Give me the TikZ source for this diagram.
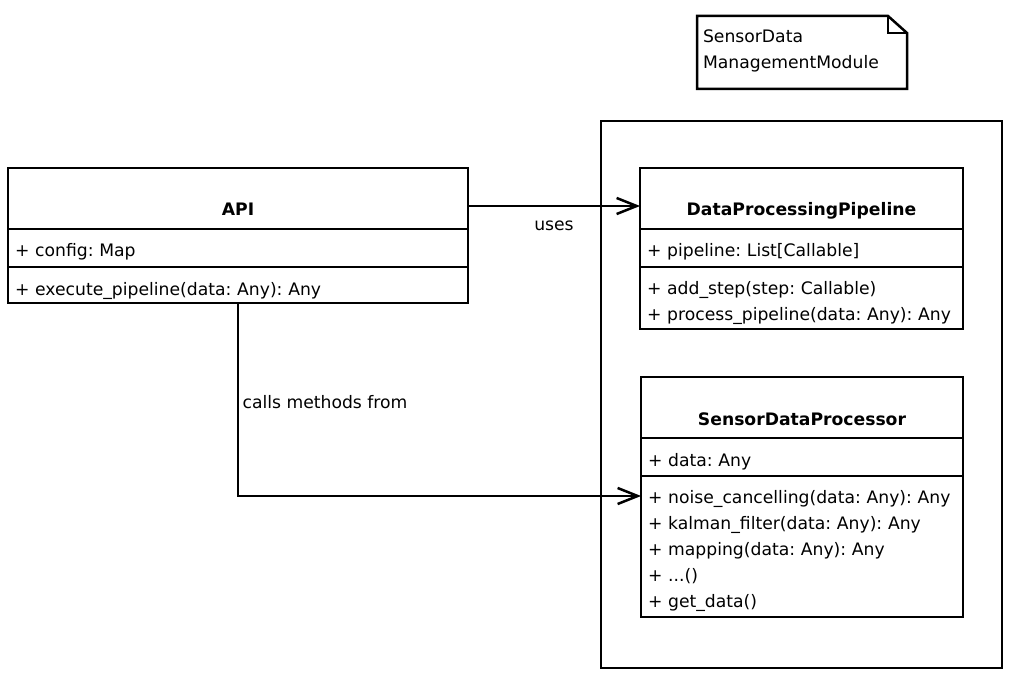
\documentclass[tikz,border=0pt]{standalone}
\usepackage{fontspec}
\setmainfont{DejaVu Sans}
\frenchspacing
\usetikzlibrary{arrows.meta,calc,positioning,shapes}
\tikzset{
    %Define style for class boxes
    clshead/.style={
        rectangle,
        draw=black, line width=2.5pt,
        anchor=north west,
        inner sep=0pt, outer sep=0pt,
        minimum width=#1,
        text height=48pt,
        text depth=13pt,
        font=\fontsize{17.2}{26}\selectfont\bfseries,
    },
    members/.style n args={3}{
        rectangle,
        draw=black, line width=2.5pt,
        anchor=north west,
        inner xsep=7pt, inner ysep=0pt, outer sep=0pt,
        text width=#1,
        text height=#2,
        text depth=#3,
        align=left,
        font=\fontsize{17.2}{26}\selectfont,
    },
    notebox/.style={
        anchor=north west,
        inner xsep=6pt, inner ysep=0pt, outer sep=0pt,
        text width=198pt,
        text height=27pt,
        text depth=46pt,
        align=left,
        font=\fontsize{17.2}{26}\selectfont,
    },
    pkgframe/.style={
        rectangle,
        draw=black, line width=2.5pt,
        anchor=north west,
        outer sep=0pt,
        minimum width=401pt,
        minimum height=547pt,
    },
    assoc/.style={
        ->,
        line width=2.5pt,
    },
    txt/.style={
        draw = none,
        font = \fontsize{17.2}{26}\selectfont,
    },
}
\begin{document}
\begin{tikzpicture}[x=1pt, y=-1pt, >={Straight Barb[length=20pt,width=16pt]}]
		\useasboundingbox (0,0) rectangle (1020,679);

		\node[pkgframe] (pkg) at (601,121) {};

		\node[notebox] (note) at (697,16) {SensorData\\ManagementModule};
		\draw[line width=2.5pt] (note.north west) -- ([xshift=-19pt]note.north east)
			-- ([yshift=-17pt]note.north east) -- (note.south east)
			-- (note.south west) -- cycle;
		\draw[line width=2.5pt] ([xshift=-19pt]note.north east) |- ([yshift=-17pt]note.north east);

		% API
		\node[clshead=460pt] (apihead) at (8,168) {API};
		\node[members={446pt}{28pt}{10pt}] (apiattr) at (apihead.south west) {+ config: Map};
		\node[members={446pt}{28pt}{8pt}] (apimeth) at (apiattr.south west) {+ execute\_pipeline(data: Any): Any};

		% DataProcessingPipeline
		\node[clshead=323pt] (dpphead) at (640,168) {DataProcessingPipeline};
		\node[members={309pt}{28pt}{10pt}] (dppattr) at (dpphead.south west) {+ pipeline: List[Callable]};
		\node[members={309pt}{27pt}{35pt}] (dppmeth) at (dppattr.south west) {+ add\_step(step: Callable)\\+ process\_pipeline(data: Any): Any};

		% SensorDataProcessor
		\node[clshead=322pt] (sdphead) at (641,377) {SensorDataProcessor};
		\node[members={308pt}{28pt}{10pt}] (sdpattr) at (sdphead.south west) {+ data: Any};
		\node[members={308pt}{27pt}{114pt}] (sdpmeth) at (sdpattr.south west) {+ noise\_cancelling(data: Any): Any\\+ kalman\_filter(data: Any): Any\\+ mapping(data: Any): Any\\+ ...()\\+ get\_data()};

		\draw[assoc] ([yshift=-7.5pt]apihead.east) -- node[txt, below=10pt] {uses} ([yshift=-7.5pt]dpphead.west);
		\draw[assoc] (apimeth.south) |- node[txt, pos=0.25, right, yshift=-3pt] {calls methods from} ([yshift=-20pt]sdpmeth.north west);
	\end{tikzpicture}
\end{document}
